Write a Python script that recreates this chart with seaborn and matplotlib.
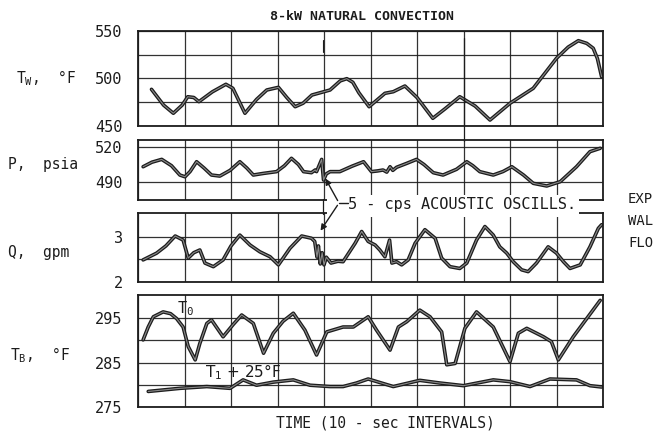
import matplotlib
matplotlib.use("Agg")
import matplotlib.pyplot as plt
import seaborn as sns
import numpy as np
import pandas as pd
from matplotlib.patches import Rectangle, FancyArrowPatch
from matplotlib.lines import Line2D

# ---------------- data ----------------
tw_x = [0.29, 0.55, 0.76, 0.95, 1.07, 1.20, 1.31, 1.60, 1.89, 2.04, 2.30, 2.55, 2.77, 3.02, 3.20,
        3.38, 3.55, 3.74, 4.13, 4.35, 4.49, 4.62, 4.75, 4.97, 5.31, 5.49, 5.74, 6.00, 6.34, 6.60, 6.92, 7.25,
        7.57, 8.00, 8.50, 9.00, 9.25, 9.47, 9.65, 9.79, 9.88, 9.97]
tw_y = [488.6, 472, 463.4, 472, 480.8, 480, 475.6, 486, 493.9, 489.7, 463.4, 478, 487.9, 490.7, 480,
        470.3, 474, 482.6, 487.9, 497.5, 499.8, 496, 485, 470.3, 484.4, 486.1, 492.1, 480, 458.1, 468, 480.8, 471,
        456.3, 473.9, 489.7, 521.3, 533, 539.8, 537, 531.8, 521, 501.9]

p_x = [0.11, 0.30, 0.51, 0.72, 0.90, 1.01, 1.12, 1.26, 1.42, 1.58, 1.76, 1.98, 2.19, 2.34, 2.48,
       2.70, 2.98, 3.15, 3.30, 3.45, 3.56, 3.73, 3.81, 3.84, 3.95, 3.99, 4.05, 4.13, 4.34, 4.60,
       4.85, 5.02, 5.15, 5.27, 5.35, 5.42, 5.48, 5.56, 5.78, 5.99, 6.15, 6.35, 6.56, 6.85, 7.07,
       7.20, 7.35, 7.64, 7.85, 8.04, 8.29, 8.50, 8.79, 9.08, 9.43, 9.72, 9.94]
p_y = [503.1, 507, 509.4, 504, 496, 494.5, 499, 507.4, 502, 496, 495.1, 500, 507.4, 502, 496,
       497.4, 498.9, 504, 510.3, 505, 498.9, 498.0, 500.3, 498.9, 509.4, 491.7, 497, 498.9, 498.9, 503.5,
       507.4, 498.9, 499.5, 500.3, 498.5, 503.1, 500, 502.6, 506, 509.4, 505, 498, 496, 500.9, 507.4,
       504, 498.9, 496, 499, 503.1, 496, 488.9, 486.6, 490.3, 503.1, 516, 518.9]

q_x = [0.11, 0.40, 0.60, 0.80, 0.97, 1.08, 1.20, 1.33, 1.44, 1.62, 1.83, 2.00, 2.19, 2.41, 2.62,
       2.84, 3.02, 3.27, 3.52, 3.73, 3.80, 3.85, 3.88, 3.92, 3.96, 4.00, 4.05, 4.15, 4.30, 4.41,
       4.67, 4.81, 4.95, 5.10, 5.20, 5.31, 5.41, 5.46, 5.56, 5.67, 5.81, 5.96, 6.17, 6.39, 6.53,
       6.71, 6.92, 7.07, 7.28, 7.46, 7.64, 7.78, 7.93, 8.07, 8.25, 8.39, 8.57, 8.82, 9.00, 9.15,
       9.29, 9.51, 9.72, 9.90, 9.97]
q_y = [2.49, 2.64, 2.80, 3.02, 2.93, 2.53, 2.65, 2.71, 2.42, 2.34, 2.49, 2.80, 3.04, 2.82, 2.67,
       2.56, 2.38, 2.75, 3.02, 2.97, 2.90, 2.55, 2.80, 2.40, 2.65, 2.38, 2.55, 2.42, 2.46, 2.45,
       2.86, 3.12, 2.90, 2.82, 2.71, 2.56, 2.93, 2.42, 2.45, 2.38, 2.49, 2.86, 3.16, 2.97, 2.53,
       2.34, 2.30, 2.42, 2.93, 3.23, 3.04, 2.78, 2.64, 2.45, 2.27, 2.23, 2.42, 2.78, 2.64, 2.45,
       2.30, 2.38, 2.78, 3.19, 3.27]

t0_x = [0.11, 0.22, 0.33, 0.54, 0.70, 0.83, 0.97, 1.08, 1.23, 1.33, 1.48, 1.58, 1.83, 2.05, 2.23, 2.48, 2.70, 2.91,
        3.12, 3.34, 3.59, 3.84, 4.06, 4.41, 4.63, 4.95, 5.13, 5.42, 5.60, 5.78, 6.06, 6.28, 6.53, 6.64,
        6.82, 7.03, 7.28, 7.64, 8.00, 8.18, 8.36, 8.72, 8.89, 9.04, 9.36, 9.65, 9.94]
t0_y = [290.1, 293, 295.3, 296.4, 296, 294.9, 293, 288.6, 285.6, 289.3, 293.8, 294.6, 290.8, 293.6, 295.7, 293.8, 287.1, 291.6,
        294.3, 296.1, 292.3, 286.7, 291.9, 293, 293, 295.3, 292.3, 287.8, 293, 294.2, 296.8, 295.3, 291.9, 284.5,
        284.8, 292.7, 296.4, 293, 285.2, 291.6, 292.7, 290.8, 289.7, 285.6, 290.8, 294.9, 299]

t1_x = [0.22, 0.90, 1.48, 1.98, 2.26, 2.55, 2.91, 3.34, 3.70, 4.13, 4.41, 4.70, 4.95, 5.49, 6.06,
        6.49, 7.00, 7.64, 8.00, 8.43, 8.86, 9.43, 9.72, 9.97]
t1_y = [278.5, 279.2, 279.6, 279.2, 281.1, 279.9, 280.6, 281.1, 279.9, 279.6, 279.6, 280.4, 281.3, 279.6, 281,
        280.4, 279.8, 281.1, 280.7, 279.6, 281.3, 281.1, 279.8, 279.5]

time_ticks = list(range(0, 11))
tw_ticks = [450, 475, 500, 525, 550]
tw_labels = ["450", "", "500", "", "550"]
p_ticks = [490, 520]
p_labels = ["490", "520"]
q_ticks = [2, 2.5, 3]
q_labels = ["2", "", "3"]
tb_ticks = [275, 280, 285, 290, 295]
tb_labels = ["275", "", "285", "", "295"]

title = "8-kW NATURAL CONVECTION"
xlabel = "TIME (10 - sec INTERVALS)"
note = "5 - cps ACOUSTIC OSCILLS."

# ---------------- style ----------------
sns.set_style("white")
plt.rcParams["font.family"] = ["DejaVu Sans Mono", "DejaVu Sans"]
plt.rcParams["mathtext.default"] = "regular"
INK = "#1c1c1c"

W, H = 659, 432
fig = plt.figure(figsize=(W / 100, H / 100), dpi=100)


def fx(px):
    return px / W


def fy(py):
    return 1 - py / H


def make_ax(top, bottom):
    return fig.add_axes([fx(138), fy(bottom), (603 - 138) / W, (bottom - top) / H])


ax1 = make_ax(31, 126)
ax2 = make_ax(140, 200)
ax3 = make_ax(213, 282)
ax4 = make_ax(295, 407)


def curve(ax, xs, ys):
    df = pd.DataFrame({"t": xs, "v": ys})
    sns.lineplot(data=df, x="t", y="v", ax=ax, color=INK, lw=2.6, zorder=3,
                 solid_joinstyle="round", solid_capstyle="round")
    sns.lineplot(data=df, x="t", y="v", ax=ax, color="#8a8a8a", lw=0.8, zorder=4,
                 solid_joinstyle="round", solid_capstyle="round")


def style(ax, ylim, ticks, labels):
    ax.set_xlim(0, 10)
    ax.set_ylim(*ylim)
    ax.set_xticks(time_ticks)
    ax.set_xticklabels([])
    ax.set_yticks(ticks)
    ax.set_yticklabels(labels, fontsize=11, color=INK)
    ax.tick_params(length=0, pad=11)
    ax.grid(True, color=INK, lw=0.9, alpha=0.9)
    ax.set_axisbelow(True)
    ax.set_xlabel("")
    ax.set_ylabel("")
    for s in ax.spines.values():
        s.set_visible(True)
        s.set_color(INK)
        s.set_linewidth(1.3)


curve(ax1, tw_x, tw_y)
style(ax1, (450, 550), tw_ticks, tw_labels)
curve(ax2, p_x, p_y)
style(ax2, (474.6, 526), p_ticks, p_labels)
curve(ax3, q_x, q_y)
style(ax3, (2, 3.53), q_ticks, q_labels)
curve(ax4, t0_x, t0_y)
curve(ax4, t1_x, t1_y)
style(ax4, (275, 300.2), tb_ticks, tb_labels)

ax4.text(0.84, 297.2, "T$_{0}$", fontsize=11, color=INK, ha="left", va="center", zorder=5)
ax4.text(1.44, 282.9, "T$_{1}$ + 25°F", fontsize=11, color=INK, ha="left", va="center", zorder=5,
         family="DejaVu Sans")

# ---------------- figure-level text ----------------
fig.text(fx(362), fy(16), title, fontsize=9.5, ha="center", va="center", color=INK, weight="bold")
fig.text(fx(385), fy(423), xlabel, fontsize=10.5, ha="center", va="center", color=INK)

fig.text(fx(16), fy(78), "T$_{W}$,  °F", fontsize=10.5, ha="left", va="center", color=INK)
fig.text(fx(8), fy(165), "P,  psia", fontsize=10.5, ha="left", va="center", color=INK)
fig.text(fx(8), fy(252), "Q,  gpm", fontsize=10.5, ha="left", va="center", color=INK)
fig.text(fx(10), fy(355), "T$_{B}$,  °F", fontsize=10.5, ha="left", va="center", color=INK)

# extended grid lines between panels
fig.add_artist(Line2D([fx(464), fx(464)], [fy(38), fy(141)], color=INK, lw=0.9, zorder=1))
fig.add_artist(Line2D([fx(323), fx(323)], [fy(40), fy(52)], color=INK, lw=0.8, zorder=1))
fig.add_artist(Line2D([fx(323), fx(323)], [fy(199), fy(214)], color=INK, lw=0.9, zorder=1))

# white break in the frames for the annotation
fig.add_artist(Rectangle((fx(327), fy(217)), fx(579) - fx(327), (217 - 195) / H,
                         facecolor="white", edgecolor="none", zorder=20))
fig.text(fx(348), fy(204), note, fontsize=11, ha="left", va="center", color=INK, zorder=22)
fig.add_artist(Line2D([fx(339), fx(348)], [fy(203), fy(203)], color=INK, lw=1.0, zorder=22))
for tip in [(324, 176), (319, 233)]:
    fig.add_artist(FancyArrowPatch(
        (fx(339), fy(203)), (fx(tip[0]), fy(tip[1])), transform=fig.transFigure,
        arrowstyle="-|>", mutation_scale=9, color=INK, lw=1.0, zorder=22))

for i, s in enumerate(["EXP", "WAL", "FLO"]):
    fig.text(fx(628), fy(199 + i * 22), s, fontsize=10, ha="left", va="center", color=INK)

fig.savefig("out.png", dpi=100)
